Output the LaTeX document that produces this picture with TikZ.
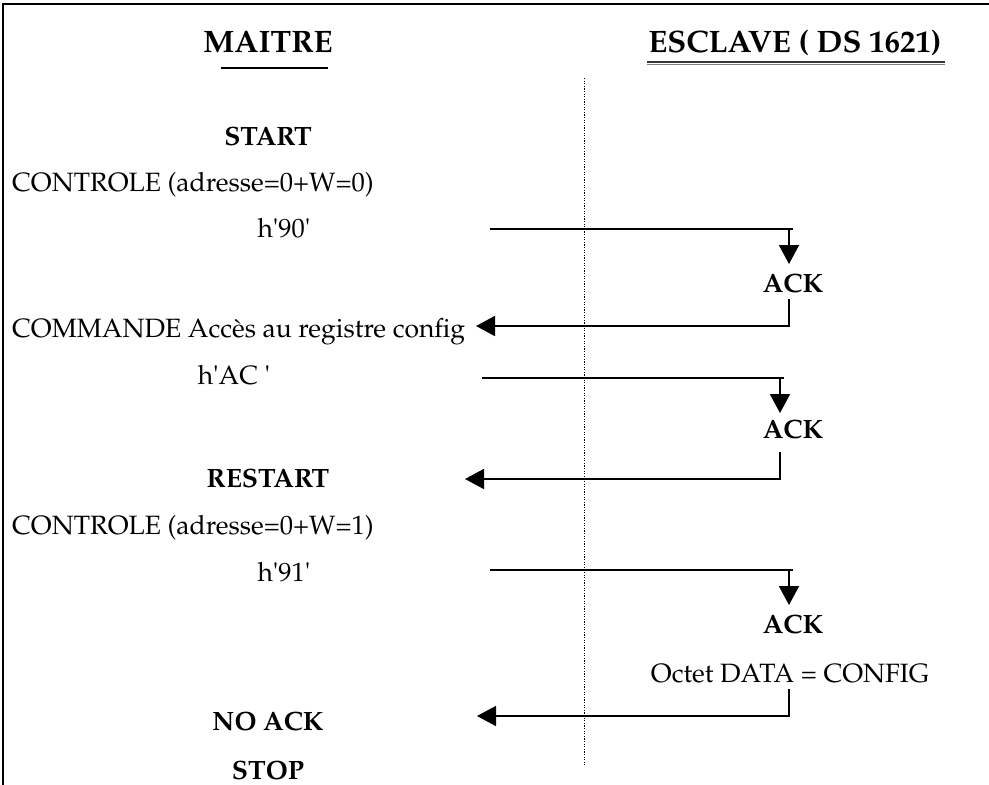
\documentclass[tikz,border=0pt]{standalone}
\usepackage[T1]{fontenc}
\usepackage{mathpazo}
\usetikzlibrary{arrows.meta}
\tikzset{
  body/.style={font=\fontsize{26.5}{30}\selectfont, inner sep=0pt, anchor=base},
  lbl/.style={font=\fontsize{26.5}{30}\selectfont\bfseries, inner sep=0pt, anchor=base},
  head/.style={font=\fontsize{31}{36}\selectfont\bfseries, inner sep=0pt, anchor=base},
  msg/.style={line width=1.8pt},
  tip/.style={line width=1.8pt, -{Triangle[width=20pt,length=19pt]}},
  frame/.style={line width=2.6pt},
}
\newcommand{\q}{\textquotesingle}
\begin{document}
\begin{tikzpicture}[x=1pt,y=-1pt]
\useasboundingbox (0,0) rectangle (989,785);
% frame (top and left)
\coordinate (fl) at (3,785);
\coordinate (ftl) at (3,4);
\coordinate (ftr) at (989,4);
\draw[frame] (fl) -- (ftl) -- (ftr);
% headers
\node[head] (maitre) at (268,52) {MAITRE};
\node[head] (esclave) at (795,52) {ESCLAVE ( DS 1621)};
\coordinate (mu1) at (221,68);
\coordinate (mu2) at (328,68);
\draw[line width=2.4pt] (mu1) -- (mu2);
\coordinate (eu1) at (647,62);
\coordinate (eu2) at (945,62);
\coordinate (eu3) at (647,64.5);
\coordinate (eu4) at (945,64.5);
\draw[line width=1.3pt, black!80] (eu1) -- (eu2);
\draw[line width=1pt, black!50] (eu3) -- (eu4);
% separator
\coordinate (sepT) at (584,78);
\coordinate (sepB) at (584,765);
\draw[line width=1pt, dash pattern=on 1.2pt off 1.4pt] (sepT) -- (sepB);
% left column
\node[lbl] (start) at (268,145) {START};
\node[body, anchor=base west] (ctl0) at (12,191) {CONTROLE (adresse=0+W=0)};
\node[body] (h90) at (284,237) {h\q90\q};
\node[body, anchor=base west] (cmd) at (12,337) {COMMANDE Acc\`es au registre config};
\node[body] (hac) at (234,384) {h\q AC \q};
\node[lbl] (restart) at (268,487) {RESTART};
\node[body, anchor=base west] (ctl1) at (12,534) {CONTROLE (adresse=0+W=1)};
\node[body] (h91) at (284,581) {h\q91\q};
\node[lbl] (noack) at (268,730) {NO ACK};
\node[lbl] (stop) at (268,779) {STOP};
% right column
\node[lbl] (ack1) at (793,292) {ACK};
\node[lbl] (ack2) at (793,438) {ACK};
\node[lbl] (ack3) at (793,633) {ACK};
\node[body] (octet) at (790,682) {Octet DATA = CONFIG};
% exchange 1
\coordinate (a1) at (490,229);
\coordinate (a1e) at (793,229);
\coordinate (d1) at (789,229);
\coordinate (d1t) at (789,264);
\draw[msg] (a1) -- (a1e);
\draw[tip] (d1) -- (d1t);
\coordinate (r1) at (789,299);
\coordinate (r1t) at (476,326);
\draw[tip] (r1) |- (r1t);
% exchange 2
\coordinate (a2) at (482,378);
\coordinate (a2e) at (784,378);
\coordinate (d2) at (780,378);
\coordinate (d2t) at (780,413);
\draw[msg] (a2) -- (a2e);
\draw[tip] (d2) -- (d2t);
\coordinate (r2) at (780,452);
\coordinate (r2t) at (465,479);
\draw[tip] (r2) |- (r2t);
% exchange 3
\coordinate (a3) at (490,570);
\coordinate (a3e) at (793,570);
\coordinate (d3) at (789,570);
\coordinate (d3t) at (789,605);
\draw[msg] (a3) -- (a3e);
\draw[tip] (d3) -- (d3t);
\coordinate (r3) at (789,689);
\coordinate (r3t) at (477,716);
\draw[tip] (r3) |- (r3t);
\end{tikzpicture}
\end{document}
